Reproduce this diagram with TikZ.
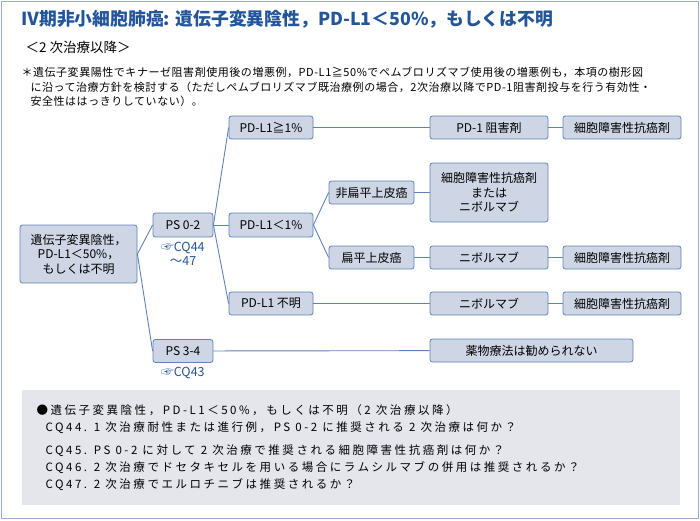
\documentclass[tikz,border=0pt]{standalone}
\usepackage{fontspec}
\setmainfont{Noto Sans CJK JP}
\newfontfamily\widejp[LetterSpace=22]{Noto Sans CJK JP}
\newfontfamily\notejp[LetterSpace=5]{Noto Sans CJK JP}
\usepackage{tikz}
\usetikzlibrary{positioning}
\definecolor{ttl}{RGB}{35,85,155}
\definecolor{bfill}{RGB}{206,213,228}
\definecolor{bline}{RGB}{95,130,185}
\definecolor{frm}{RGB}{150,175,210}
\definecolor{notebg}{RGB}{228,230,236}
\tikzset{
  box/.style={draw=bline,fill=bfill,rounded corners=2.5pt,line width=0.8pt,font=\fontsize{12}{14.5}\selectfont,inner sep=0pt,align=center},
  link/.style={draw=bline,line width=0.9pt},
  refnote/.style={text=ttl,font=\fontsize{12.5}{14}\selectfont,align=center}
}
\begin{document}
\begin{tikzpicture}[x=1pt,y=-1pt]
\useasboundingbox (0,0) rectangle (700,520);
\draw[frm,line width=1.5pt] (1.5,1.5) rectangle (698.5,518.5);
\node[anchor=west,text=ttl,font=\fontsize{17.8}{20}\selectfont\bfseries] (title) at (18,19) {Ⅳ期非小細胞肺癌: 遺伝子変異陰性，PD-L1＜50\%，もしくは不明};
\node[anchor=west,font=\fontsize{13.5}{16}\selectfont] (sub) at (22,47) {＜2 次治療以降＞};
\node[anchor=north west,font=\notejp\fontsize{11}{14.5}\selectfont,align=left,text width=690] (note) at (18,64)
 {＊遺伝子変異陽性でキナーゼ阻害剤使用後の増悪例，PD-L1≧50\%でペムブロリズマブ使用後の増悪例も，本項の樹形図\\
 \hspace*{9pt}に沿って治療方針を検討する（ただしペムブロリズマブ既治療例の場合，2次治療以降でPD-1阻害剤投与を行う有効性・\\
 \hspace*{9pt}安全性ははっきりしていない）。};
% tree
\node[box,minimum width=117,minimum height=58] (root) at (78.5,254) {遺伝子変異陰性，\\PD-L1＜50\%，\\もしくは不明};
\node[box,minimum width=60,minimum height=24] (ps02) at (183,225) {PS 0-2};
\node[box,minimum width=60,minimum height=23] (ps34) at (183,351) {PS 3-4};
\node[refnote,below=1pt of ps02] (cq44) {☞CQ44\\～47};
\node[refnote,below=1pt of ps34] (cq43) {☞CQ43};
\node[box,minimum width=84,minimum height=23] (pdhi) at (271,127.5) {PD-L1≧1\%};
\node[box,minimum width=84,minimum height=24] (pdlo) at (271,225) {PD-L1＜1\%};
\node[box,minimum width=84,minimum height=23] (pdun) at (271,303.5) {PD-L1 不明};
\node[box,minimum width=85,minimum height=23] (nonsq) at (371.5,192.5) {非扁平上皮癌};
\node[box,minimum width=85,minimum height=23] (sq) at (371.5,257.5) {扁平上皮癌};
\node[box,minimum width=118,minimum height=23] (pd1) at (489,127.5) {PD-1 阻害剤};
\node[box,minimum width=118,minimum height=59] (chemo) at (489,192.5) {細胞障害性抗癌剤\\または\\ニボルマブ};
\node[box,minimum width=118,minimum height=23] (nivoA) at (489,257.5) {ニボルマブ};
\node[box,minimum width=118,minimum height=23] (nivoB) at (489,303.5) {ニボルマブ};
\node[box,minimum width=203,minimum height=23] (nodrug) at (531.5,350.5) {薬物療法は勧められない};
\node[box,minimum width=118,minimum height=23] (cytoA) at (622,127.5) {細胞障害性抗癌剤};
\node[box,minimum width=118,minimum height=23] (cytoB) at (622,257.5) {細胞障害性抗癌剤};
\node[box,minimum width=118,minimum height=23] (cytoC) at (622,303.5) {細胞障害性抗癌剤};
\path[link] (root.east) -- (ps02.west);
\path[link] (root.east) -- (ps34.west);
\path[link] (ps02.east) -- (pdhi.west);
\path[link] (ps02.east) -- (pdlo.west);
\path[link] (ps02.east) -- (pdun.west);
\path[link] (pdlo.east) -- (nonsq.west);
\path[link] (pdlo.east) -- (sq.west);
\path[link] (pdhi) -- (pd1);
\path[link] (pd1) -- (cytoA);
\path[link] (nonsq) -- (chemo);
\path[link] (sq) -- (nivoA);
\path[link] (nivoA) -- (cytoB);
\path[link] (pdun) -- (nivoB);
\path[link] (nivoB) -- (cytoC);
\path[link] (ps34) -- (nodrug);
% note box
\fill[notebg] (22,390) rectangle (680,505);
\node[anchor=north west,font=\widejp\fontsize{11.5}{17}\selectfont,align=left] (cqs) at (33,401)
 {●遺伝子変異陰性，PD-L1＜50\%，もしくは不明（2 次治療以降）\\
 \hspace*{9pt}CQ44. 1 次治療耐性または進行例，PS 0-2 に推奨される 2 次治療は何か？\\[6pt]
 \hspace*{9pt}CQ45. PS 0-2 に対して 2 次治療で推奨される細胞障害性抗癌剤は何か？\\
 \hspace*{9pt}CQ46. 2 次治療でドセタキセルを用いる場合にラムシルマブの併用は推奨されるか？\\
 \hspace*{9pt}CQ47. 2 次治療でエルロチニブは推奨されるか？};
\end{tikzpicture}
\end{document}
